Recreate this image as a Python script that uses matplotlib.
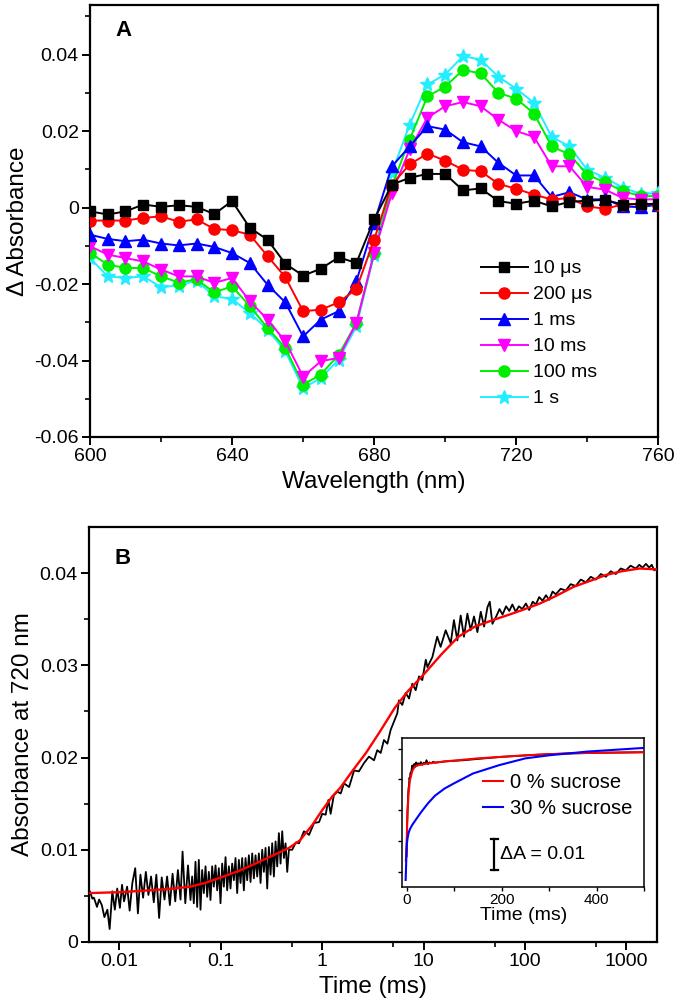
import matplotlib
matplotlib.use("Agg")
import matplotlib.pyplot as plt
from matplotlib.ticker import FixedLocator, FuncFormatter, NullFormatter, FixedFormatter

plt.rcParams['font.family'] = ['Liberation Sans', 'DejaVu Sans']

# ---------------- Panel A data ----------------
wavelength = [600, 605, 610, 615, 620, 625, 630, 635, 640, 645, 650, 655, 660, 665, 670,
              675, 680, 685, 690, 695, 700, 705, 710, 715, 720, 725, 730, 735, 740, 745,
              750, 755, 760]
a_10us = [-0.0010, -0.0018, -0.0010, 0.0008, 0.0002, 0.0006, 0.0002, -0.0017, 0.0017, -0.0053,
          -0.0084, -0.0147, -0.0178, -0.0160, -0.0130, -0.0145, -0.0031, 0.0060, 0.0078, 0.0088,
          0.0088, 0.0045, 0.0050, 0.0017, 0.0010, 0.0018, 0.0003, 0.0015, 0.0018, 0.0020,
          0.0008, 0.0009, 0.0010]
a_200us = [-0.0034, -0.0034, -0.0034, -0.0027, -0.0023, -0.0037, -0.0031, -0.0056, -0.0059, -0.0071,
           -0.0127, -0.0182, -0.0271, -0.0267, -0.0248, -0.0213, -0.0084, 0.0060, 0.0113, 0.0141,
           0.0123, 0.0099, 0.0095, 0.0062, 0.0049, 0.0034, 0.0021, 0.0025, 0.0003, -0.0003,
           0.0008, 0.0010, 0.0008]
a_1ms = [-0.0071, -0.0082, -0.0088, -0.0084, -0.0094, -0.0099, -0.0094, -0.0103, -0.0119, -0.0145,
         -0.0202, -0.0248, -0.0337, -0.0293, -0.0271, -0.0193, -0.0040, 0.0108, 0.0160, 0.0213,
         0.0204, 0.0171, 0.0160, 0.0117, 0.0084, 0.0084, 0.0028, 0.0040, 0.0021, 0.0022,
         0.0003, 0.0001, 0.0008]
a_10ms = [-0.0101, -0.0123, -0.0132, -0.0141, -0.0162, -0.0180, -0.0180, -0.0197, -0.0184, -0.0245,
          -0.0293, -0.0350, -0.0442, -0.0402, -0.0393, -0.0302, -0.0119, 0.0038, 0.0152, 0.0235,
          0.0265, 0.0276, 0.0265, 0.0230, 0.0200, 0.0185, 0.0108, 0.0108, 0.0054, 0.0047,
          0.0025, 0.0021, 0.0022]
a_100ms = [-0.0119, -0.0149, -0.0158, -0.0158, -0.0180, -0.0196, -0.0188, -0.0222, -0.0206, -0.0258,
           -0.0315, -0.0367, -0.0463, -0.0437, -0.0385, -0.0302, -0.0119, 0.0056, 0.0178, 0.0291,
           0.0316, 0.0360, 0.0351, 0.0300, 0.0285, 0.0246, 0.0160, 0.0139, 0.0086, 0.0066,
           0.0043, 0.0030, 0.0030]
a_1s = [-0.0132, -0.0180, -0.0184, -0.0180, -0.0208, -0.0204, -0.0191, -0.0232, -0.0239, -0.0276,
        -0.0319, -0.0376, -0.0472, -0.0446, -0.0398, -0.0311, -0.0123, 0.0091, 0.0217, 0.0322,
        0.0348, 0.0396, 0.0387, 0.0342, 0.0311, 0.0274, 0.0185, 0.0160, 0.0099, 0.0078,
        0.0052, 0.0036, 0.0038]
series_labels = ["10 \u03bcs", "200 \u03bcs", "1 ms", "10 ms", "100 ms", "1 s"]

# ---------------- Panel B data (trace at 720 nm) ----------------
trace_t = [0.0049, 0.0051, 0.0054, 0.0056, 0.0060, 0.0063, 0.0067, 0.0071, 0.0076, 0.0080,
           0.0085, 0.0090, 0.0095, 0.0101, 0.0106, 0.0111, 0.0119, 0.0126, 0.0134, 0.0143,
           0.0152, 0.0161, 0.0171, 0.0182, 0.0193, 0.0205, 0.0218, 0.0231, 0.0246, 0.0261,
           0.0278, 0.0295, 0.0314, 0.0334, 0.0355, 0.0377, 0.0400, 0.0419, 0.0446, 0.0474,
           0.0502, 0.0521, 0.0541, 0.0562, 0.0584, 0.0606, 0.0630, 0.0654, 0.0679, 0.0706,
           0.0733, 0.0761, 0.0790, 0.0821, 0.0852, 0.0886, 0.0920, 0.0955, 0.0992, 0.1030,
           0.1070, 0.1112, 0.1154, 0.1199, 0.1245, 0.1293, 0.1343, 0.1395, 0.1449, 0.1505,
           0.1563, 0.1623, 0.1686, 0.1751, 0.1819, 0.1889, 0.1962, 0.2038, 0.2116, 0.2198,
           0.2283, 0.2371, 0.2463, 0.2558, 0.2656, 0.2759, 0.2865, 0.2976, 0.3091, 0.3210,
           0.3334, 0.3463, 0.3597, 0.3736, 0.3879, 0.4029, 0.4185, 0.4346, 0.4514, 0.4689,
           0.505, 0.55, 0.59, 0.66, 0.71, 0.74, 0.83, 0.93, 1.0, 1.08,
           1.15, 1.21, 1.30, 1.41, 1.52, 1.64, 1.84, 2.06, 2.30, 2.58,
           2.89, 3.24, 3.49, 3.77, 4.06, 4.39, 4.73, 5.1, 5.5, 5.71,
           6.16, 6.65, 7.18, 7.73, 8.35, 9.0, 9.7, 10.5, 10.9, 12.2,
           13.6, 14.7, 16.5, 18.5, 19.9, 21.5, 23.2, 25.0, 27.0, 29.1,
           31.4, 33.9, 36.6, 39.5, 42.6, 44.9, 47.7, 52, 56, 60,
           65, 70, 75, 81, 87, 94, 102, 110, 119, 128,
           138, 149, 161, 173, 187, 201, 225, 252, 282, 316,
           355, 398, 445, 499, 560, 627, 700, 786, 880, 986,
           1100, 1238, 1340, 1441, 1560, 1676, 1780, 1880, 1950]
trace_v = [0.0049, 0.0055, 0.0047, 0.0048, 0.0038, 0.0046, 0.0040, 0.0027, 0.0035, 0.0014,
           0.0055, 0.0035, 0.0058, 0.0037, 0.0062, 0.0044, 0.0060, 0.0034, 0.0064, 0.0080,
           0.0031, 0.0073, 0.0048, 0.0076, 0.0051, 0.0071, 0.0043, 0.0073, 0.0026, 0.0070,
           0.0046, 0.0071, 0.0040, 0.0074, 0.0044, 0.0078, 0.0046, 0.0098, 0.0042, 0.0083,
           0.00455, 0.0071, 0.0042, 0.0087, 0.0038, 0.0089, 0.0035, 0.0078, 0.0053, 0.0082,
           0.0049, 0.0076, 0.00455, 0.0082, 0.0060, 0.0083, 0.0056, 0.0080, 0.0042, 0.0085,
           0.0060, 0.0092, 0.0056, 0.0082, 0.0058, 0.0085, 0.0067, 0.0091, 0.0053, 0.0089,
           0.0064, 0.0091, 0.0056, 0.0091, 0.0067, 0.0094, 0.0065, 0.0096, 0.0069, 0.0094,
           0.0071, 0.0096, 0.0064, 0.0100, 0.0076, 0.0102, 0.0058, 0.0103, 0.0073, 0.0107,
           0.0071, 0.0109, 0.0082, 0.0118, 0.0085, 0.0120, 0.0091, 0.0107, 0.0076, 0.0100,
           0.0100, 0.0108, 0.0107, 0.0120, 0.0118, 0.0116, 0.0129, 0.0130, 0.0139, 0.0138,
           0.0154, 0.0139, 0.0159, 0.0163, 0.0161, 0.0172, 0.0168, 0.0186, 0.0185, 0.0194,
           0.0201, 0.0197, 0.0208, 0.0205, 0.0219, 0.0215, 0.0230, 0.0239, 0.0248, 0.0262,
           0.0257, 0.0270, 0.0264, 0.0280, 0.0273, 0.0288, 0.0284, 0.0306, 0.0298, 0.0309,
           0.0331, 0.0320, 0.0338, 0.0324, 0.0349, 0.0327, 0.0354, 0.0331, 0.0356, 0.0338,
           0.0353, 0.0336, 0.0358, 0.0342, 0.0363, 0.0369, 0.0345, 0.0353, 0.0361, 0.0355,
           0.0364, 0.0359, 0.0366, 0.0358, 0.0364, 0.0361, 0.0367, 0.0360, 0.0369, 0.0366,
           0.0374, 0.0370, 0.0376, 0.0371, 0.0380, 0.0377, 0.0383, 0.0381, 0.0388, 0.0386,
           0.0393, 0.0390, 0.0396, 0.0393, 0.0399, 0.0396, 0.0402, 0.0399, 0.0405, 0.0403,
           0.0408, 0.0405, 0.0409, 0.0406, 0.0410, 0.0406, 0.0409, 0.0403, 0.0404]
fit_t = [0.005, 0.01, 0.02, 0.035, 0.05, 0.07, 0.1, 0.15, 0.2, 0.3, 0.47, 0.6, 0.8, 1.0, 1.26,
         1.5, 2.0, 2.7, 3.7, 5.2, 7.0, 10, 15, 22, 32, 48, 70, 100, 140, 200, 300, 450, 630,
         900, 1350, 2000]
fit_v = [0.0053, 0.0054, 0.0056, 0.0058, 0.0060, 0.0064, 0.0070, 0.0077, 0.0083, 0.0092, 0.0102,
         0.0110, 0.0127, 0.0143, 0.0158, 0.0167, 0.0186, 0.0205, 0.0228, 0.0254, 0.0272, 0.0290,
         0.0312, 0.0331, 0.0342, 0.0349, 0.0355, 0.0361, 0.0367, 0.0375, 0.0385, 0.0392, 0.0398,
         0.0402, 0.0405, 0.0404]

# ---------------- Inset data ----------------
in_data_t = [0, 1, 2, 3, 4, 5, 6, 7, 8, 10, 12, 14, 16, 18, 20, 22, 24, 27, 30, 33, 36, 39,
             42, 45, 48, 52, 56, 60, 80, 120, 200, 300, 400, 500]
in_data_v = [0.005, 0.015, 0.020, 0.024, 0.027, 0.028, 0.0305, 0.030, 0.032, 0.0325, 0.0345,
             0.0335, 0.035, 0.034, 0.0355, 0.0345, 0.0352, 0.0348, 0.0356, 0.0347, 0.0354,
             0.0350, 0.0362, 0.0349, 0.0355, 0.0352, 0.0357, 0.0354, 0.0358, 0.0362, 0.0373,
             0.0382, 0.0386, 0.0388]
in_0_t = [-1.5, 0, 1, 2, 4, 7, 12, 17, 25, 42, 80, 150, 250, 350, 500]
in_0_v = [0.0035, 0.008, 0.014, 0.019, 0.025, 0.0297, 0.0327, 0.0341, 0.0346, 0.0351, 0.0358,
          0.0368, 0.0378, 0.0385, 0.0388]
in_30_t = [-2, -1, 0, 1, 2, 4, 7, 12, 20, 30, 45, 60, 80, 100, 140, 195, 250, 300, 380, 500]
in_30_v = [-0.0027, 0.002, 0.0075, 0.0095, 0.0108, 0.0125, 0.0138, 0.0152, 0.017, 0.0192,
           0.0222, 0.0247, 0.0270, 0.0287, 0.0319, 0.0346, 0.0368, 0.0378, 0.0390, 0.0402]
inset_labels = ["0 % sucrose", "30 % sucrose"]

TICK_FS = 14
LAB_FS = 17.5

fig = plt.figure(figsize=(6.79, 10.08), dpi=100)

# ================= Panel A =================
axA = fig.add_axes([0.1325, 0.5665, 0.837, 0.4286])
colors = ['#000000', '#ff0000', '#0000ff', '#ff00ff', '#00ee00', '#22eeff']
markers = ['s', 'o', '^', 'v', 'o', '*']
msizes = [7, 8, 8, 8, 8, 10]
allA = [a_10us, a_200us, a_1ms, a_10ms, a_100ms, a_1s]
for i, (ys, c, m, ms, lab) in enumerate(zip(allA, colors, markers, msizes, series_labels)):
    axA.plot(wavelength, ys, color=c, marker=m, markersize=ms, lw=1.4,
             markeredgecolor=c, label=lab, zorder=10 - i)
axA.set_xlim(600, 760)
axA.set_ylim(-0.06, 0.053)
axA.xaxis.set_major_locator(FixedLocator([600, 640, 680, 720, 760]))
axA.xaxis.set_minor_locator(FixedLocator([620, 660, 700, 740]))
axA.yaxis.set_major_locator(FixedLocator([-0.06, -0.04, -0.02, 0, 0.02, 0.04]))
axA.yaxis.set_minor_locator(FixedLocator([-0.05, -0.03, -0.01, 0.01, 0.03, 0.05]))
axA.yaxis.set_major_formatter(FuncFormatter(lambda v, p: "0" if abs(v) < 1e-9 else ("%.2f" % v)))
axA.set_xlabel("Wavelength (nm)", fontsize=LAB_FS, labelpad=4)
axA.set_ylabel("\u0394 Absorbance", fontsize=LAB_FS, labelpad=4)
axA.text(0.045, 0.94, "A", transform=axA.transAxes, fontsize=16, fontweight='bold',
         va='center', ha='left')
leg = axA.legend(loc='upper left', bbox_to_anchor=(0.688, 0.41), frameon=False,
                 fontsize=14, handlelength=2.4, handletextpad=0.25, labelspacing=0.43,
                 borderpad=0, borderaxespad=0, numpoints=1)

# ================= Panel B =================
axB = fig.add_axes([0.131, 0.0655, 0.8365, 0.4117])
axB.set_xscale('log')
axB.plot(trace_t, trace_v, color='black', lw=1.3, zorder=2)
axB.plot(fit_t, fit_v, color='#ff0000', lw=1.7, zorder=3)
axB.set_xlim(0.005, 2000)
axB.set_ylim(0, 0.045)
axB.xaxis.set_major_locator(FixedLocator([0.01, 0.1, 1, 10, 100, 1000]))
axB.xaxis.set_major_formatter(FixedFormatter(["0.01", "0.1", "1", "10", "100", "1000"]))
axB.xaxis.set_minor_locator(FixedLocator([0.05, 0.5, 5, 50, 500]))
axB.xaxis.set_minor_formatter(NullFormatter())
axB.yaxis.set_major_locator(FixedLocator([0, 0.01, 0.02, 0.03, 0.04]))
axB.yaxis.set_minor_locator(FixedLocator([0.005, 0.015, 0.025, 0.035]))
axB.yaxis.set_major_formatter(FuncFormatter(lambda v, p: "0" if abs(v) < 1e-9 else ("%.2f" % v)))
axB.set_xlabel("Time (ms)", fontsize=LAB_FS, labelpad=4)
axB.set_ylabel("Absorbance at 720 nm", fontsize=LAB_FS, labelpad=4)
axB.text(0.045, 0.925, "B", transform=axB.transAxes, fontsize=16, fontweight='bold',
         va='center', ha='left')

for ax in (axA, axB):
    for s in ax.spines.values():
        s.set_linewidth(1.6)
    ax.tick_params(which='major', direction='out', length=6, width=1.4, labelsize=TICK_FS, pad=2)
    ax.tick_params(which='minor', direction='out', length=3.5, width=1.2)

# ================= Inset =================
axI = fig.add_axes([0.5925, 0.1197, 0.356, 0.1484])
axI.plot(in_data_t, in_data_v, color='black', lw=1.3, zorder=2)
axI.plot(in_0_t, in_0_v, color='#ff0000', lw=1.5, zorder=3, label=inset_labels[0])
axI.plot(in_30_t, in_30_v, color='#0000ff', lw=1.5, zorder=4, label=inset_labels[1])
axI.set_xlim(-9, 500)
axI.set_ylim(-0.0051, 0.0435)
axI.xaxis.set_major_locator(FixedLocator([0, 200, 400]))
axI.xaxis.set_minor_locator(FixedLocator([100, 300, 500]))
axI.yaxis.set_major_locator(FixedLocator([0, 0.01, 0.02, 0.03, 0.04]))
axI.yaxis.set_major_formatter(NullFormatter())
axI.tick_params(which='major', direction='out', length=3, width=1.0, labelsize=11, pad=1)
axI.tick_params(which='minor', direction='out', length=3, width=1.0)
for s in axI.spines.values():
    s.set_linewidth(1.1)
axI.set_xlabel("Time (ms)", fontsize=14, labelpad=0)
axI.legend(loc='upper left', bbox_to_anchor=(0.335, 0.765), frameon=False, fontsize=14.5,
           handlelength=1.0, handletextpad=0.35, labelspacing=0.35, borderpad=0,
           borderaxespad=0)
# scale bar (Delta A = 0.01)
axI.plot([185, 185], [0.0005, 0.0105], color='black', lw=1.6)
axI.plot([178, 192], [0.0005, 0.0005], color='black', lw=1.6)
axI.plot([178, 192], [0.0105, 0.0105], color='black', lw=1.6)
axI.text(196, 0.0055, "\u0394A = 0.01", fontsize=14, va='center', ha='left')

fig.savefig("out.png", dpi=100)
